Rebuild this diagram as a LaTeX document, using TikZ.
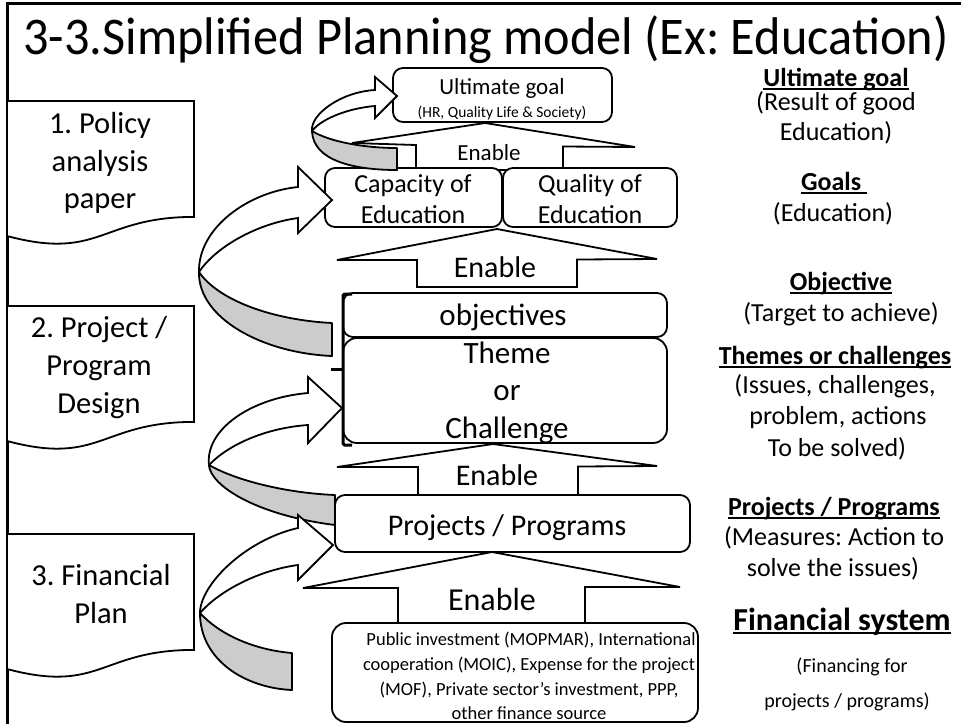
\documentclass[tikz,border=0pt]{standalone}
\usepackage{graphicx}
\usepackage{fontspec}
\setmainfont{Carlito}
\frenchspacing
\newcommand{\fsz}[1]{\fontsize{#1}{#1}\selectfont}
\newcommand{\hdul}[1]{\setbox0=\hbox{#1}\rlap{\rule[-0.14em]{\wd0}{0.075em}}\box0}
\begin{document}
\begin{tikzpicture}[x=1pt,y=-1pt,
  tx/.style={inner sep=0pt, anchor=base},
  box/.style={draw, line width=1.8pt, rounded corners=10pt, fill=white, inner sep=0pt},
  enab/.style={draw, line width=1.8pt, fill=white, line join=miter},
  curv/.style={draw, line width=1.8pt, fill=white, line join=miter},
  curvback/.style={draw, line width=1.8pt, fill=gray!40, line join=round},
  docshape/.style={draw, line width=1.8pt, fill=white}]
\useasboundingbox (0,0) rectangle (961,724);
\fill[white] (0,0) rectangle (961,724);
% frame
\coordinate (fTL) at (7,3);
\coordinate (fTR) at (961,3);
\coordinate (fBL) at (7,724);
\draw[line width=3pt] (fBL) -- (fTL) -- (fTR);
% title
\node[tx, font=\fsz{53}] (title) at (486,54) {\scalebox{0.949}[1]{3-3.Simplified Planning model (Ex: Education)}};
% document shapes
\draw[docshape] (7,101) -- (194,101) -- (194,216.9) .. controls (100.5,216.9) and (100.5,261) .. (7,236) -- cycle;
\draw[docshape] (7,306) -- (194,306) -- (194,421.9) .. controls (100.5,421.9) and (100.5,466) .. (7,441) -- cycle;
\draw[docshape] (7,534) -- (194,534) -- (194,649.9) .. controls (100.5,649.9) and (100.5,694) .. (7,669) -- cycle;
\node[tx, font=\fsz{30.5}] (d1a) at (100,133) {1. Policy};
\node[tx, font=\fsz{30.5}] (d1b) at (100,171) {analysis};
\node[tx, font=\fsz{30.5}] (d1c) at (100,208) {paper};
\node[tx, font=\fsz{30.5}] (d2a) at (99,337) {2. Project /};
\node[tx, font=\fsz{30.5}] (d2b) at (99,375) {Program};
\node[tx, font=\fsz{30.5}] (d2c) at (99,413) {Design};
\node[tx, font=\fsz{30.5}] (d3a) at (101,585) {3. Financial};
\node[tx, font=\fsz{30.5}] (d3b) at (101,623) {Plan};
% enable arrows
\draw[enab] (485,123) -- (635,147) -- (563,146.5) -- (563,170) -- (416,170) -- (416,145) -- (352,143) -- cycle;
\draw[enab] (497,229) -- (657,259) -- (577,259.5) -- (577,287) -- (417,287) -- (417,260) -- (337,260) -- cycle;
\draw[enab] (493,444) -- (657,466) -- (578,466.5) -- (578,497) -- (418,497) -- (418,467) -- (337,467) -- cycle;
\draw[enab] (492,552) -- (680,587) -- (585,587) -- (585,625) -- (398,625) -- (398,588) -- (303,588) -- cycle;
\node[tx, font=\fsz{23}] (en1) at (489,160) {Enable};
\node[tx, font=\fsz{30}] (en2) at (495,277) {Enable};
\node[tx, font=\fsz{30}] (en3) at (497,485) {Enable};
\node[tx, font=\fsz{32}] (en4) at (492,610) {Enable};
% boxes
\node[box, minimum width=219pt, minimum height=54pt] (ug) at (502.5,95) {};
\node[box, minimum width=177pt, minimum height=59pt] (cap) at (413.5,197.5) {};
\node[box, minimum width=174pt, minimum height=59pt] (qual) at (590,197.5) {};
\node[box, minimum width=324pt, minimum height=44pt] (obj) at (505,315) {};
\node[box, rounded corners=14pt, minimum width=324pt, minimum height=105pt] (theme) at (505,390.5) {};
\node[box, minimum width=355pt, minimum height=57pt] (proj) at (512.5,523.5) {};
\node[box, rounded corners=14pt, minimum width=366pt, minimum height=99pt] (fin) at (515,672.5) {};
% box texts
\node[tx, font=\fsz{23}] (ugt1) at (502,94) {Ultimate goal};
\node[tx, font=\fsz{15.5}] (ugt2) at (502,117) {(HR, Quality Life \& Society)};
\node[tx, font=\fsz{26}] (capt1) at (413,192) {Capacity of};
\node[tx, font=\fsz{26}] (capt2) at (413,223) {Education};
\node[tx, font=\fsz{26}] (qut1) at (590,192) {Quality of};
\node[tx, font=\fsz{26}] (qut2) at (590,223) {Education};
\node[tx, font=\fsz{31}] (objt) at (503,325) {objectives};
\node[tx, font=\fsz{31}] (tht1) at (507,363) {Theme};
\node[tx, font=\fsz{31}] (tht2) at (507,400) {or};
\node[tx, font=\fsz{31}] (tht3) at (507,438) {Challenge};
\node[tx, font=\fsz{30}] (prt) at (507,535) {Projects / Programs};
\node[tx, font=\fsz{18.5}] (fin1) at (531,645) {Public investment (MOPMAR), International};
\node[tx, font=\fsz{18.5}] (fin2) at (529,670) {cooperation (MOIC), Expense for the project};
\node[tx, font=\fsz{18.5}] (fin3) at (529,695) {(MOF), Private sector’s investment, PPP,};
\node[tx, font=\fsz{18.5}] (fin4) at (529,719) {other finance source};
% bracket
\draw[line width=3pt, rounded corners=1.5pt] (352,294) -- (343,294) -- (343,445) -- (352,445);
\draw[line width=3pt] (343,369) -- (331,369);
% curved arrows
\draw[curvback] (312,131) .. controls (313,160) and (352,170) .. (397,170) -- (397,148) .. controls (365,148) and (330,142) .. (312,131) -- cycle;
\draw[curv] (312,131) .. controls (310,115) and (340,92) .. (375,90) -- (375,77) -- (397,96) -- (375,118) -- (375,106) .. controls (350,108) and (322,118) .. (312,131) -- cycle;
\draw[curvback] (199,272) .. controls (198,318) and (262,353) .. (332,356) -- (332,323) .. controls (272,320) and (218,300) .. (199,272) -- cycle;
\draw[curv] (199,272) .. controls (198,228) and (248,192) .. (298,187) -- (298,167) -- (332,200) -- (298,233) -- (298,218) .. controls (255,224) and (215,248) .. (199,272) -- cycle;
\draw[curvback] (209,465) .. controls (210,485) and (255,515) .. (335,525) -- (335,495) .. controls (285,493) and (235,480) .. (209,465) -- cycle;
\draw[curv] (209,465) .. controls (205,430) and (250,398) .. (308,393) -- (308,377) -- (342,408) -- (308,443) -- (308,425) .. controls (265,428) and (228,445) .. (209,465) -- cycle;
\draw[curvback] (200,613) .. controls (200,660) and (245,688) .. (292,690) -- (292,653) .. controls (255,650) and (220,635) .. (200,613) -- cycle;
\draw[curv] (200,613) .. controls (200,585) and (245,540) .. (298,528) -- (298,515) -- (333,545) -- (298,580) -- (298,565) .. controls (260,570) and (220,590) .. (200,613) -- cycle;
% right column
\node[tx, font=\fsz{26}\bfseries] (r1) at (836,86) {\hdul{Ultimate goal}};
\node[tx, font=\fsz{26}] (r2) at (836,110) {(Result of good};
\node[tx, font=\fsz{26}] (r3) at (836,140) {Education)};
\node[tx, font=\fsz{26}\bfseries] (r4) at (834,190) {\hdul{Goals\ }};
\node[tx, font=\fsz{26}] (r5) at (833,221) {(Education)};
\node[tx, font=\fsz{26}\bfseries] (r6) at (841,290) {\hdul{Objective}};
\node[tx, font=\fsz{26}] (r7) at (841,321) {(Target to achieve)};
\node[tx, font=\fsz{26}\bfseries] (r8) at (835,364) {\hdul{Themes or challenges}};
\node[tx, font=\fsz{26}] (r9) at (835,393) {(Issues, challenges,};
\node[tx, font=\fsz{26}] (r10) at (838,424) {problem, actions};
\node[tx, font=\fsz{26}] (r11) at (837,456) {To be solved)};
\node[tx, font=\fsz{26}\bfseries] (r12) at (834,515) {\hdul{Projects / Programs}};
\node[tx, font=\fsz{26}] (r13) at (834,545) {(Measures: Action to};
\node[tx, font=\fsz{26}] (r14) at (833,576) {solve the issues)};
\node[tx, font=\fsz{32}\bfseries] (r15) at (842,630) {\hdul{Financial system}};
\node[tx, font=\fsz{20}] (r16) at (852,672) {(Financing for};
\node[tx, font=\fsz{20}] (r17) at (847,707) {projects / programs)};
\end{tikzpicture}
\end{document}
